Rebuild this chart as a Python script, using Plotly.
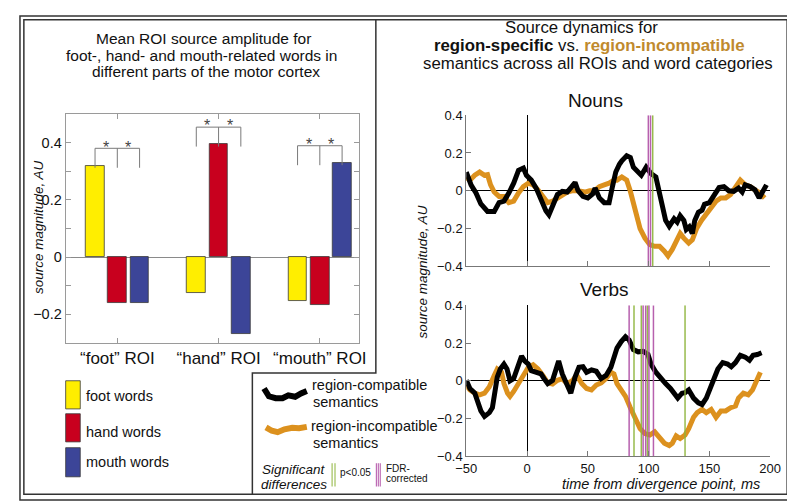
import plotly.graph_objects as go

W, H = 795, 503
FONT = "Liberation Sans, Arial, sans-serif"

# ---------------- data: bar chart ----------------
roi_labels = ["“foot” ROI", "“hand” ROI", "“mouth” ROI"]
word_categories = ["foot words", "hand words", "mouth words"]
foot_words = [0.320, -0.124, -0.152]
hand_words = [-0.160, 0.394, -0.169]
mouth_words = [-0.161, -0.270, 0.329]
bar_colors = ["#FFEE00", "#C8001E", "#3C4598"]

# ---------------- data: source dynamics ----------------
nouns_t_compat = [-50, -46, -42, -38, -32.5, -27, -23, -19, -15, -11, -7, -3, -0.5, 3.5, 7.5, 11.5, 15.5, 18, 21, 25,
                  29, 33, 36.8, 39.5, 42, 46, 50, 54, 56, 59.5, 63.5, 67.5, 70, 73, 76, 78, 82, 85, 87.5, 91.5, 94,
                  98, 102, 106, 109, 111.5, 114, 117, 121, 123.5, 126, 129, 131, 133.5, 136, 138, 141, 144, 146,
                  150, 154, 158, 162, 166, 170, 174, 177, 179.5, 183.5, 187.5, 191, 194, 197]
nouns_compat = [0.099, 0.030, -0.012, -0.070, -0.110, -0.110, -0.063, -0.055, -0.012, 0.040, 0.108, 0.120, 0.082,
                0.056, 0.014, -0.055, -0.106, -0.127, -0.080, -0.020, -0.003, -0.007, 0.022, 0.044, 0.000, -0.030,
                -0.038, -0.017, 0.014, -0.038, -0.063, -0.063, 0.014, 0.099, 0.140, 0.159, 0.185, 0.176, 0.125,
                0.099, 0.082, 0.125, 0.091, 0.073, -0.004, -0.072, -0.157, -0.188, -0.149, -0.166, -0.132, -0.157,
                -0.205, -0.191, -0.226, -0.157, -0.114, -0.103, -0.072, -0.063, -0.020, 0.017, 0.022, 0.000,
                -0.003, 0.014, -0.007, 0.031, 0.022, 0.005, -0.038, -0.003, 0.031]

nouns_t_incompat = [-50, -47, -43, -39, -35, -32.5, -30, -27, -23, -19, -15, -11, -7, -3, 1, 5, 9, 13, 17, 21, 25,
                    29, 33, 37, 42, 47.5, 51.5, 55.5, 59.5, 63.5, 67.5, 71.5, 74, 78, 82, 85, 87.5, 90, 93, 97, 101,
                    105, 109, 113, 116, 119.5, 123.5, 126, 129, 133, 136, 139.5, 143.5, 147.5, 151.5, 155.5, 159.5,
                    163.5, 167.5, 171.5, 175.5, 179.5, 183.5, 187.5, 191.5, 195.5]
nouns_incompat = [0.070, 0.056, 0.082, 0.099, 0.082, 0.085, 0.031, -0.007, -0.030, -0.030, -0.063, -0.055, -0.012,
                  0.022, 0.040, 0.031, 0.005, -0.030, -0.063, -0.055, -0.038, -0.020, -0.007, 0.000, 0.000, -0.007,
                  0.000, 0.000, 0.022, 0.031, 0.040, 0.056, 0.056, 0.073, 0.056, -0.003, -0.072, -0.140, -0.200,
                  -0.251, -0.285, -0.294, -0.294, -0.320, -0.345, -0.311, -0.260, -0.226, -0.251, -0.277, -0.260,
                  -0.200, -0.157, -0.123, -0.097, -0.055, -0.038, -0.038, -0.020, 0.022, 0.056, 0.031, 0.022, 0.005,
                  -0.012, -0.038]

verbs_t_compat = [-50, -47, -43, -40.5, -38, -35, -31, -28.5, -27, -24.5, -22, -19, -16.5, -14, -11, -8.5, -4.5, -2,
                  1, 3.5, 7.5, 11.5, 14, 17, 21, 23.5, 26, 29, 32, 36, 39.5, 42.7, 46, 49, 53, 57, 61, 65, 69, 71.5,
                  74, 77.5, 81, 84, 87.5, 91.5, 95.5, 99.5, 102, 106, 110, 114, 118, 121, 124, 127.5, 130, 133, 137,
                  141, 144, 147.5, 150, 154, 157, 161, 165, 168, 171.5, 175.5, 179.5, 183, 186, 189.5, 193]
verbs_compat = [0.003, -0.040, -0.065, -0.108, -0.159, -0.188, -0.168, -0.142, -0.091, 0.020, 0.063, 0.089, 0.063,
                0.000, 0.012, 0.063, 0.131, 0.106, 0.089, 0.054, 0.046, 0.037, 0.012, -0.014, 0.003, 0.046, 0.106,
                0.037, -0.014, -0.065, 0.020, 0.072, 0.075, 0.046, 0.058, 0.051, 0.012, 0.029, 0.072, 0.131, 0.174,
                0.208, 0.234, 0.217, 0.166, 0.154, 0.157, 0.140, 0.089, 0.046, 0.012, -0.014, -0.040, -0.065,
                -0.091, -0.065, -0.062, -0.048, -0.091, -0.116, -0.125, -0.091, -0.048, 0.012, 0.063, 0.097, 0.089,
                0.075, 0.097, 0.136, 0.126, 0.109, 0.136, 0.140, 0.149]

verbs_t_incompat = [-50, -47, -43, -39, -35, -31, -27, -24.5, -21, -19, -16, -14, -11, -7, -3, 1, 5, 9, 13, 17, 21,
                    25, 29, 33, 37, 41, 45, 49, 53, 57, 61, 65, 69, 71.5, 74, 77, 81, 85, 89, 93, 97, 101, 105, 109,
                    113, 117, 119.5, 122.7, 126, 130, 133, 137, 140, 144, 147.5, 151.5, 155.5, 159.5, 163.5, 167.5,
                    171.5, 174, 178, 182, 185.5, 188.5, 192]
verbs_incompat = [-0.022, -0.048, -0.065, -0.074, -0.065, -0.031, 0.029, 0.063, 0.046, -0.014, -0.065, -0.082,
                  -0.056, -0.010, 0.037, 0.072, 0.085, 0.063, 0.029, -0.010, -0.017, 0.003, 0.012, -0.014, 0.000,
                  0.029, -0.014, -0.040, -0.048, -0.022, -0.010, 0.012, 0.046, 0.037, -0.014, -0.048, -0.082,
                  -0.142, -0.202, -0.253, -0.279, -0.287, -0.270, -0.305, -0.330, -0.342, -0.330, -0.291, -0.305,
                  -0.287, -0.253, -0.193, -0.168, -0.151, -0.168, -0.151, -0.193, -0.159, -0.159, -0.142, -0.133,
                  -0.091, -0.065, -0.074, -0.048, -0.005, 0.046]

nouns_fdr_times = [99.8, 101.6]
nouns_p05_times = [103.4]
verbs_fdr_times = [84, 95.5, 97.6, 100.3, 104]
verbs_p05_times = [88, 94, 99, 130]

x_ticks = [-50, 0, 50, 100, 150, 200]
x_ticktext = ["−50", "0", "50", "100", "150", "200"]
y_ticks = [-0.4, -0.2, 0, 0.2, 0.4]
y_ticktext = ["−0.4", "−0.2", "0", "0.2", "0.4"]
bar_y_ticks = [-0.2, -0.1, 0, 0.1, 0.2, 0.3, 0.4]
bar_y_text = ["−0.2", "", "0", "", "0.2", "", "0.4"]

COMPAT = "#000000"
INCOMPAT = "#DC911E"
FDR = "#B04FA6"
P05 = "#8DB43A"


def px(x):
    return x / W


def py(y):
    return 1 - y / H


fig = go.Figure()

# ---------------- bars ----------------
groups = [1, 2, 3]
offsets = [-0.22, 0.0, 0.22]
series = [foot_words, hand_words, mouth_words]
for name, vals, col, off in zip(word_categories, series, bar_colors, offsets):
    fig.add_trace(go.Bar(
        x=[g + off for g in groups], y=vals, width=0.185, name=name,
        marker=dict(color=col, line=dict(color="#3a3a3a", width=0.8)),
        xaxis="x", yaxis="y", showlegend=False))

# significance brackets (from bar values)
shapes = []
annotations = []
for gi, g in enumerate(groups):
    vals = [s[gi] for s in series]
    vmax = max(vals)
    top = vmax + 0.06
    end = vmax - 0.008
    xs = [g + o for o in offsets]
    shapes.append(dict(type="line", xref="x", yref="y", x0=xs[0], x1=xs[2], y0=top, y1=top,
                       line=dict(color="#7a7a7a", width=1)))
    for xv in xs:
        shapes.append(dict(type="line", xref="x", yref="y", x0=xv, x1=xv, y0=top, y1=end,
                           line=dict(color="#7a7a7a", width=1)))
    for xa in [g - 0.11, g + 0.11]:
        annotations.append(dict(x=xa, y=top + 0.004, xref="x", yref="y", text="*", showarrow=False,
                                font=dict(size=16, color="#444", family=FONT), yanchor="middle"))

# ---------------- lines ----------------
def add_panel(xa, ya, t_c, v_c, t_i, v_i, fdr, p05):
    fig.add_trace(go.Scatter(x=t_i, y=v_i, mode="lines", line=dict(color=INCOMPAT, width=5),
                             xaxis=xa, yaxis=ya, showlegend=False))
    fig.add_trace(go.Scatter(x=t_c, y=v_c, mode="lines", line=dict(color=COMPAT, width=5),
                             xaxis=xa, yaxis=ya, showlegend=False))
    for t in p05:
        fig.add_trace(go.Scatter(x=[t, t], y=[-0.4, 0.4], mode="lines", line=dict(color=P05, width=1.5),
                                 opacity=0.9, xaxis=xa, yaxis=ya, showlegend=False))
    for t in fdr:
        fig.add_trace(go.Scatter(x=[t, t], y=[-0.4, 0.4], mode="lines", line=dict(color=FDR, width=1.5),
                                 opacity=0.9, xaxis=xa, yaxis=ya, showlegend=False))


add_panel("x2", "y2", nouns_t_compat, nouns_compat, nouns_t_incompat, nouns_incompat, nouns_fdr_times, nouns_p05_times)
add_panel("x3", "y3", verbs_t_compat, verbs_compat, verbs_t_incompat, verbs_incompat, verbs_fdr_times, verbs_p05_times)

# ---------------- axes ----------------
common_line = dict(showgrid=False, showline=True, ticks="inside", ticklen=5, tickcolor="#777",
                   linecolor="#777", linewidth=1)
fig.update_layout(
    xaxis=dict(domain=[px(48), px(350)], range=[0.49, 3.39], tickvals=groups, ticktext=roi_labels,
               mirror="ticks", zeroline=False, tickfont=dict(size=17, color="#111", family=FONT),
               ticklabelstandoff=0, anchor="y", linecolor="#9a9a9a", tickcolor="#9a9a9a",
               showgrid=False, showline=True, ticks="inside", ticklen=5),
    yaxis=dict(domain=[py(338), py(102)], range=[-0.3, 0.5], tickvals=bar_y_ticks, ticktext=bar_y_text,
               mirror="ticks", zeroline=True, zerolinecolor="#8a8a8a", zerolinewidth=1,
               tickfont=dict(size=14.5, color="#111", family=FONT), anchor="x",
               linecolor="#9a9a9a", tickcolor="#9a9a9a", showgrid=False, showline=True, ticks="inside",
               ticklen=5),
    xaxis2=dict(domain=[px(460), px(772.5)], range=[-50, 200], tickvals=x_ticks, showticklabels=False,
                zeroline=True, zerolinecolor="#000", zerolinewidth=1, anchor="y2", **common_line),
    yaxis2=dict(domain=[py(259), py(103.3)], range=[-0.4, 0.4], tickvals=y_ticks, ticktext=y_ticktext,
                zeroline=True, zerolinecolor="#000", zerolinewidth=1, anchor="x2",
                tickfont=dict(size=13, color="#111", family=FONT), **common_line),
    xaxis3=dict(domain=[px(460), px(772.5)], range=[-50, 200], tickvals=x_ticks, ticktext=x_ticktext,
                zeroline=True, zerolinecolor="#000", zerolinewidth=1, anchor="y3",
                tickfont=dict(size=13, color="#111", family=FONT), **common_line),
    yaxis3=dict(domain=[py(455), py(299.3)], range=[-0.4, 0.4], tickvals=y_ticks, ticktext=y_ticktext,
                zeroline=True, zerolinecolor="#000", zerolinewidth=1, anchor="x3",
                tickfont=dict(size=13, color="#111", family=FONT), **common_line),
)

# ---------------- text ----------------
def txt(x, y, s, size, xanchor="center", italic=False, color="#111", angle=0):
    if italic:
        s = "<i>" + s + "</i>"
    annotations.append(dict(x=px(x), y=py(y), xref="paper", yref="paper", text=s, showarrow=False,
                            xanchor=xanchor, yanchor="middle", textangle=angle, borderpad=0,
                            font=dict(size=size, color=color, family=FONT)))


txt(190, 24.5, "Mean ROI source amplitude for", 15.5)
txt(188, 41.5, "foot-, hand- and mouth-related words in", 15.5)
txt(192, 58.5, "different parts of the motor cortex", 15.5)

txt(579, 12.5, "Source dynamics for", 16.8)
txt(587, 31, "<b>region-specific</b> vs. <b><span style='color:#BF8A2E'>region-incompatible</span></b>", 16.8)
txt(595, 49.5, "semantics across all ROIs and word categories", 16.8)
txt(593, 88, "Nouns", 19)
txt(602, 283, "Verbs", 19)

txt(20, 219, "source magnitude, AU", 13.5, italic=True, angle=-90)
txt(415, 265, "source magnitude, AU", 13.5, italic=True, angle=-90)
txt(660, 483, "time from divergence point, ms", 14.5, italic=True)

# bar legend
legend_y = [393, 430, 461]
patch_top = [377, 411, 446]
patch_bot = [406, 440, 476]
for name, col, yy, t0, t1 in zip(word_categories, bar_colors, legend_y, patch_top, patch_bot):
    txt(68, yy, name, 14.5, xanchor="left")
    shapes.append(dict(type="rect", xref="paper", yref="paper", x0=px(48), x1=px(63), y0=py(t1), y1=py(t0),
                       fillcolor=col, line=dict(color="#3a3a3a", width=0.8)))

# line legend
txt(300, 381, "region-compatible", 14.5, xanchor="left")
txt(301, 398.5, "semantics", 14.5, xanchor="left")
txt(299, 424, "region-incompatible", 14.5, xanchor="left")
txt(301, 441.5, "semantics", 14.5, xanchor="left")
txt(317, 468, "Significant", 13.5, xanchor="right", italic=True)
txt(318, 484, "differences", 13.5, xanchor="right", italic=True)
txt(329, 472, "p&lt;0.05", 10, xanchor="left")
txt(376, 467.5, "FDR-", 10, xanchor="left")
txt(376, 477.5, "corrected", 10, xanchor="left")


def path(points):
    return "M " + " L ".join(f"{px(a):.5f},{py(b):.5f}" for a, b in points)


shapes.append(dict(type="path", xref="paper", yref="paper",
                   path=path([(252, 385), (257, 393), (264, 395), (271, 395), (277, 392), (284, 393.5),
                              (290, 390), (296, 387.5)]),
                   line=dict(color=COMPAT, width=6)))
shapes.append(dict(type="path", xref="paper", yref="paper",
                   path=path([(254, 425), (260, 428.5), (266, 430), (273, 427), (281, 425.5), (288, 426),
                              (296, 424.5)]),
                   line=dict(color=INCOMPAT, width=6)))
for xx in [322, 325]:
    shapes.append(dict(type="line", xref="paper", yref="paper", x0=px(xx), x1=px(xx), y0=py(462), y1=py(486),
                       line=dict(color=P05, width=1)))
for xx in [367.5, 369.5, 371.5]:
    shapes.append(dict(type="line", xref="paper", yref="paper", x0=px(xx), x1=px(xx), y0=py(462), y1=py(486),
                       line=dict(color=FDR, width=1)))

# frames
BORDER = "#333"
shapes.append(dict(type="rect", xref="paper", yref="paper", x0=px(1), x1=px(794), y0=py(500), y1=py(1),
                   line=dict(color=BORDER, width=1.5)))
shapes.append(dict(type="rect", xref="paper", yref="paper", x0=px(5), x1=px(790), y0=py(494), y1=py(5),
                   line=dict(color=BORDER, width=1.5)))
shapes.append(dict(type="path", xref="paper", yref="paper",
                   path=path([(367, 5), (367, 369), (240, 369), (240, 494)]),
                   line=dict(color=BORDER, width=1.5)))

fig.update_layout(
    width=W, height=H, margin=dict(l=0, r=0, t=0, b=0),
    paper_bgcolor="white", plot_bgcolor="rgba(0,0,0,0)", showlegend=False,
    font=dict(family=FONT, color="#111"),
    shapes=shapes, annotations=annotations, bargap=0,
)

fig.write_html("out.html")
